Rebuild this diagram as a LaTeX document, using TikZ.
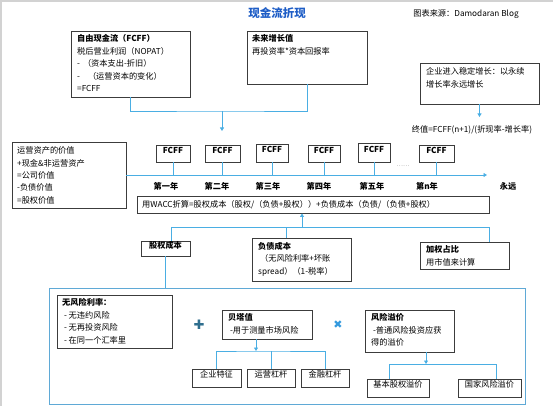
\documentclass[tikz,border=0pt]{standalone}
\usepackage{fontspec}
\setmainfont{Noto Sans CJK SC}
\newfontfamily\symfont{DejaVu Sans}
\usetikzlibrary{arrows.meta,fit}
\definecolor{ln}{HTML}{3C3C3C}
\definecolor{cb}{HTML}{4AAEE3}
\definecolor{bb}{HTML}{5FA9D6}
\definecolor{tb}{HTML}{1E5DC6}
\definecolor{pc}{HTML}{2F6E8E}
\definecolor{xc}{HTML}{3399DD}
\tikzset{
  box/.style={draw=ln, line width=0.9pt, inner sep=0pt, font=\fontsize{8.2}{12.4}\selectfont},
  txt/.style={font=\fontsize{8.2}{12.4}\selectfont, align=left, inner sep=0pt, anchor=north west},
  lbl/.style={font=\fontsize{8.2}{12}\selectfont\bfseries, inner sep=0pt},
  conn/.style={draw=cb, line width=0.8pt},
  arr/.style={conn, -{Triangle[width=4pt,length=3.5pt]}},
}
\begin{document}
\begin{tikzpicture}[x=1pt,y=-1pt]
\useasboundingbox (0,0) rectangle (553,406);
\draw[gray!35, line width=2pt] (1,406) -- (1,1) -- (553,1);

% title and source
\node[font=\fontsize{11.5}{14}\selectfont\bfseries, text=tb, inner sep=0pt] (title) at (277,13) {现金流折现};
\node[font=\fontsize{8.2}{12}\selectfont, inner sep=0pt] (src) at (466,14) {图表来源：Damodaran Blog};

% top boxes
\node[box, fit={(71,31) (190,97)}] (fcff) {};
\node[txt] (fcfft) at (77,34.5) {\textbf{自由现金流（FCFF）}\\税后营业利润（NOPAT）\\-\hspace{3pt}（资本支出-折旧）\\-\hspace{8pt}（运营资本的变化）\\=FCFF};
\node[box, fit={(247,31) (367,84)}] (fut) {};
\node[txt] (futt) at (252,34.5) {\textbf{未来增长值}\\再投资率*资本回报率};
\node[box, fit={(420,63) (539,104)}] (stab) {};
\node[txt] (stabt) at (426,67.5) {企业进入稳定增长：以永续\\增长率永远增长};
\node[font=\fontsize{8.2}{12}\selectfont, inner sep=0pt] (tv) at (472,130) {终值=FCFF(n+1)/(折现率-增长率)};

\coordinate (j1) at (222,111);
\coordinate (a1) at (222,131);
\coordinate (tva) at (481,117);
\draw[conn] (fcff.south) |- (j1) -| (fut.south);
\draw[arr] (j1) -- (a1);
\draw[arr] (stab.south) -- (stab.south |- tva);

% left box
\node[box, fit={(12,142) (126,208)}] (val) {};
\node[txt] (valt) at (17,146.5) {运营资产的价值\\+现金\&非运营资产\\=公司价值\\-负债价值\\=股权价值};

% timeline
\coordinate (tlend) at (487,175);
\draw[arr] (val.east) -- (tlend);
\node[box, fit={(156,145) (190,162)}, font=\fontsize{8.2}{12}\selectfont\bfseries] (f1) {FCFF};
\node[box, fit={(205,145) (240,162)}, font=\fontsize{8.2}{12}\selectfont\bfseries] (f2) {FCFF};
\node[box, fit={(256,144) (288,162)}, font=\fontsize{8.2}{12}\selectfont\bfseries] (f3) {FCFF};
\node[box, fit={(308,145) (340,162)}, font=\fontsize{8.2}{12}\selectfont\bfseries] (f4) {FCFF};
\node[box, fit={(358,143) (390,162)}, font=\fontsize{8.2}{12}\selectfont\bfseries] (f5) {FCFF};
\node[box, fit={(419,145) (454,162)}, font=\fontsize{8.2}{12}\selectfont\bfseries] (f6) {FCFF};
\foreach \f in {f1,f2,f3,f4,f5,f6} \draw[conn] (\f.south) -- (\f.south |- tlend);
\node[font=\fontsize{6}{8}\selectfont, text=gray, inner sep=0pt] (dots) at (403,166) {……};

\node[lbl] (y1) at (166,186) {第一年};
\node[lbl] (y2) at (217,186) {第二年};
\node[lbl] (y3) at (268,186) {第三年};
\node[lbl] (y4) at (319,186) {第四年};
\node[lbl] (y5) at (372,186) {第五年};
\node[lbl] (y6) at (427,186) {第n年};
\node[lbl] (y7) at (508,186) {永远};

% WACC
\node[box, fit={(137,196) (489,213)}] (wacc) {};
\node[txt, anchor=west] (wacct) at (142,204.5) {用WACC折算=股权成本（股权/（负债+股权））+负债成本（负债/（负债+股权）};

\coordinate (hL) at (171,227);
\coordinate (hR) at (489,227);
\coordinate (hM) at (286,227);
\coordinate (hA) at (302,227);
\node[box, fit={(141,241) (190,256)}, font=\fontsize{8.2}{12}\selectfont\bfseries] (eq) {股权成本};
\node[box, fit={(252,238) (351,281)}] (debt) {};
\node[txt] (debtt) at (258,242) {\textbf{负债成本}\\\hspace{2pt}（无风险利率+坏账\\spread）（1-税率）};
\node[box, fit={(420,242) (509,269)}] (wt) {};
\node[txt] (wtt) at (426,245.5) {\textbf{加权占比}\\用市值来计算};
\draw[conn] (eq.north -| hL) -- (hL) -- (hR) -- (wt.north -| hR);
\draw[conn] (debt.north -| hM) -- (hM);
\draw[arr] (hA) -- (wacc.south -| hA);

% big box
\node[draw=bb, line width=1pt, inner sep=0pt, fit={(49,288) (525,404)}] (big) {};
\draw[conn] (eq.south) -- (eq.south |- big.north);

\node[box, fit={(57,295) (172,348)}] (rf) {};
\node[txt] (rft) at (62,298.5) {\textbf{无风险利率：}\\\ - 无违约风险\\\ - 无再投资风险\\\ - 在同一个汇率里};
\node[font=\symfont\fontsize{13}{14}\selectfont, text=pc, inner sep=0pt] (plus) at (199,325) {✚};
\node[box, fit={(222,310) (312,339)}] (beta) {};
\node[txt] (betat) at (228,313.5) {\textbf{贝塔值}\\\ -用于测量市场风险};
\node[font=\symfont\fontsize{11}{14}\selectfont, text=xc, inner sep=0pt] (times) at (338,325) {✖};
\node[box, fit={(365,310) (454,352)}] (rp) {};
\node[txt] (rpt) at (371,313.5) {\textbf{风险溢价}\\\ -普通风险投资应获\\得的溢价};

\node[box, fit={(192,369) (241,387)}] (c1) {企业特征};
\node[box, fit={(247,369) (295,387)}] (c2) {运营杠杆};
\node[box, fit={(301,369) (349,387)}] (c3) {金融杠杆};
\coordinate (bj) at (256,351);
\draw[arr] (beta.south -| bj) -- (bj);
\draw[conn] (c1.north) |- (bj) -| (c3.north);
\draw[conn] (c2.north) -- (c2.north |- bj);

\node[box, fit={(367,379) (429,397)}] (p1) {基本股权溢价};
\node[box, fit={(458,379) (521,397)}] (p2) {国家风险溢价};
\coordinate (rpj) at (426,364);
\coordinate (rpl) at (389,364);
\coordinate (rpr) at (496,364);
\draw[arr] (rp.south -| rpj) -- (rpj);
\draw[conn] (p1.north -| rpl) -- (rpl) -- (rpr) -- (p2.north -| rpr);
\end{tikzpicture}
\end{document}
